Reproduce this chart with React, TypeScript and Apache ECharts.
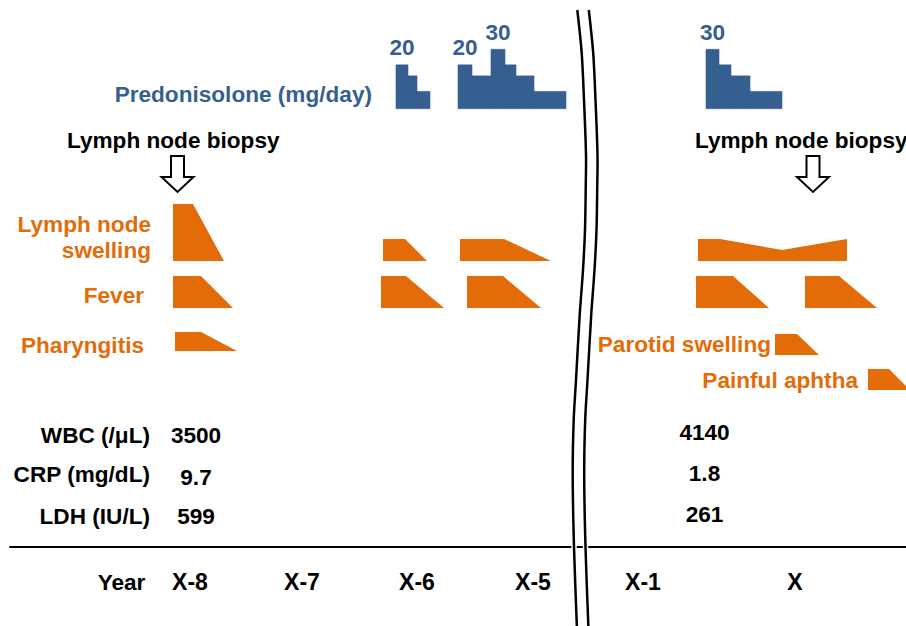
import { useEffect, useRef } from 'react';
import * as echarts from 'echarts';

// ---- Data (timeline units along the drawn time axis) ----
const predStepStart = [396, 408, 417, 458, 472, 491, 505, 516, 534, 706, 719, 731, 750];
const predStepEnd = [408, 417, 430, 472, 491, 505, 516, 534, 566, 719, 731, 750, 782];
const predDose = [20, 15, 10, 20, 15, 30, 20, 15, 10, 30, 20, 15, 10];
const predLabelled = [true, false, false, true, false, true, false, false, false, true, false, false, false];

// symptom episodes: profile of [time, intensity] along the top edge
const lymphEpisodes = [
  [[173, 57], [193, 57], [224, 0]],
  [[383, 22], [405, 22], [427, 0]],
  [[460, 22], [504, 22], [551, 0]],
  [[698, 22], [720, 22], [782, 11], [847, 22], [847, 0]],
];
const feverEpisodes = [
  [[173, 32], [201, 32], [233, 0]],
  [[381, 32], [406, 32], [444, 0]],
  [[467, 32], [503, 32], [541, 0]],
  [[696, 32], [733, 32], [769, 0]],
  [[805, 32], [839, 32], [877, 0]],
];
const pharyngitisEpisodes = [[[175, 19], [201, 19], [237, 0]]];
const parotidEpisodes = [[[775, 21], [797, 21], [819, 0]]];
const aphthaEpisodes = [[[868, 21], [889, 21], [910, 0]]];

const biopsyTimes = [177.5, 813];

const labNames = ['WBC (/μL)', 'CRP (mg/dL)', 'LDH (IU/L)'];
const labAtX8 = ['3500', '9.7', '599'];
const labAtX = ['4140', '1.8', '261'];

const yearTickPos = [190, 302, 417, 533, 643, 795];
const yearTickLabels = ['X-8', 'X-7', 'X-6', 'X-5', 'X-1', 'X'];

// ---- Styles / layout ----
const BLUE = '#365F91';
const ORANGE = '#E36C09';
const FAMILY = '"Liberation Sans", Arial, sans-serif';
const FONT = 'bold 22.6px ' + FAMILY;

const symptomRows = [
  { episodes: lymphEpisodes, base: 261 },
  { episodes: feverEpisodes, base: 308 },
  { episodes: pharyngitisEpisodes, base: 351 },
  { episodes: parotidEpisodes, base: 355 },
  { episodes: aphthaEpisodes, base: 390 },
];

const breakLine = [
  [577.3, 10], [581.7, 53], [584, 100], [586, 155], [585.7, 190], [585, 230],
  [583, 270], [579.7, 315], [576, 380], [573.7, 420], [572.7, 475], [574, 547], [577, 630],
];

function txt(text: string, x: number, y: number, align: string, fill: string) {
  return {
    type: 'text',
    x,
    y,
    z: 50,
    style: { text, font: FONT, fill, align, verticalAlign: 'middle', textAlign: align, textVerticalAlign: 'middle' },
  };
}

export default function App() {
  const ref = useRef<HTMLDivElement>(null);

  useEffect(() => {
    document.body.style.margin = '0';
    if (!ref.current) return;
    const chart = echarts.init(ref.current, null, { renderer: 'svg' });

    const flatEpisodes: { profile: number[][]; base: number }[] = [];
    symptomRows.forEach((r) => r.episodes.forEach((p) => flatEpisodes.push({ profile: p, base: r.base })));

    const labRowsY8 = [435, 477, 516];
    const labRowsYX = [432, 473, 514];
    const labNameY = [435, 474, 516];

    const graphics: any[] = [
      txt('Predonisolone (mg/day)', 372, 94, 'right', BLUE),
      txt('Lymph node biopsy', 67, 140, 'left', '#000'),
      txt('Lymph node biopsy', 695, 140, 'left', '#000'),
      txt('Lymph node', 151, 224, 'right', ORANGE),
      txt('swelling', 151, 250, 'right', ORANGE),
      txt('Fever', 144, 295, 'right', ORANGE),
      txt('Pharyngitis', 144, 345, 'right', ORANGE),
      txt('Parotid swelling', 771, 344, 'right', ORANGE),
      txt('Painful aphtha', 858, 380, 'right', ORANGE),
      txt('Year', 121.5, 582, 'center', '#000'),
    ];
    labNames.forEach((n, i) => {
      graphics.push(txt(n, 150, labNameY[i], 'right', '#000'));
      graphics.push(txt(labAtX8[i], 196, labRowsY8[i], 'center', '#000'));
      graphics.push(txt(labAtX[i], 704.5, labRowsYX[i], 'center', '#000'));
    });
    [0, 11.5].forEach((dx) => {
      const pts = breakLine.map(([x, y]) => [x + dx, y]);
      graphics.push({ type: 'polyline', z: 90, shape: { points: pts, smooth: 0.3 }, style: { stroke: '#fff', lineWidth: 5.5, fill: null } });
    });
    [0, 11.5].forEach((dx) => {
      const pts = breakLine.map(([x, y]) => [x + dx, y]);
      graphics.push({ type: 'polyline', z: 91, shape: { points: pts, smooth: 0.3 }, style: { stroke: '#000', lineWidth: 2.5, fill: null } });
    });

    chart.setOption({
      animation: false,
      grid: [
        { left: 0, right: 0, top: 0, bottom: 0 },
        { left: 0, right: 0, top: 49.3, height: 59.4 },
        { left: 10, right: 0, top: 500, bottom: 79 },
      ],
      xAxis: [
        { type: 'value', gridIndex: 0, min: 0, max: 906, show: false },
        { type: 'value', gridIndex: 1, min: 0, max: 906, show: false },
        {
          type: 'value',
          gridIndex: 2,
          min: 10,
          max: 906,
          position: 'bottom',
          splitLine: { show: false },
          axisTick: { show: false },
          axisLine: { show: true, onZero: false, lineStyle: { color: '#000', width: 2 } },
          axisLabel: {
            customValues: yearTickPos,
            margin: 23,
            color: '#000',
            fontWeight: 'bold',
            fontSize: 23,
            fontFamily: FAMILY,
            formatter: (v: number) => {
              const i = yearTickPos.indexOf(v);
              return i >= 0 ? yearTickLabels[i] : '';
            },
          },
        },
      ],
      yAxis: [
        { type: 'value', gridIndex: 0, min: 0, max: 626, inverse: true, show: false },
        { type: 'log', gridIndex: 1, min: 6.37, max: 30, logBase: 10, show: false },
        { type: 'value', gridIndex: 2, min: 0, max: 1, show: false },
      ],
      graphic: graphics,
      series: [
        {
          type: 'custom',
          xAxisIndex: 1,
          yAxisIndex: 1,
          data: predStepStart.map((s, i) => [s, predStepEnd[i], predDose[i]]),
          renderItem: (params: any, api: any) => {
            const i = params.dataIndex;
            const p0 = api.coord([api.value(0), api.value(2)]);
            const p1 = api.coord([api.value(1), api.value(2)]);
            const cs = params.coordSys;
            const bottom = cs.y + cs.height;
            const children: any[] = [
              {
                type: 'rect',
                shape: { x: p0[0], y: p0[1], width: p1[0] - p0[0], height: bottom - p0[1] },
                style: { fill: BLUE, stroke: BLUE, lineWidth: 0.6 },
              },
            ];
            if (predLabelled[i]) {
              children.push({
                type: 'text',
                x: (p0[0] + p1[0]) / 2,
                y: p0[1] - 17,
                style: { text: String(api.value(2)), font: FONT, fill: BLUE, align: 'center', verticalAlign: 'middle', textAlign: 'center', textVerticalAlign: 'middle' },
              });
            }
            return { type: 'group', children };
          },
        },
        {
          type: 'custom',
          xAxisIndex: 0,
          yAxisIndex: 0,
          data: flatEpisodes.map((e) => [e.profile[0][0], e.base]),
          renderItem: (params: any, api: any) => {
            const e = flatEpisodes[params.dataIndex];
            const pts = e.profile.map(([t, h]) => api.coord([t, e.base - h]));
            const last = e.profile[e.profile.length - 1][0];
            const first = e.profile[0][0];
            pts.push(api.coord([last, e.base]));
            pts.push(api.coord([first, e.base]));
            return { type: 'polygon', shape: { points: pts }, style: { fill: ORANGE } };
          },
        },
        {
          type: 'custom',
          xAxisIndex: 0,
          yAxisIndex: 0,
          data: biopsyTimes.map((t) => [t, 156]),
          renderItem: (params: any, api: any) => {
            const t = api.value(0);
            const top = api.value(1);
            const pts = [
              [t - 6.5, top], [t + 6.5, top], [t + 6.5, top + 21], [t + 16, top + 21],
              [t, top + 36], [t - 16, top + 21], [t - 6.5, top + 21],
            ].map((p) => api.coord(p));
            return { type: 'polygon', shape: { points: pts }, style: { fill: '#fff', stroke: '#000', lineWidth: 2 } };
          },
        },
      ],
    });

    return () => chart.dispose();
  }, []);

  return <div ref={ref} style={{ width: 906, height: 626 }} />;
}
